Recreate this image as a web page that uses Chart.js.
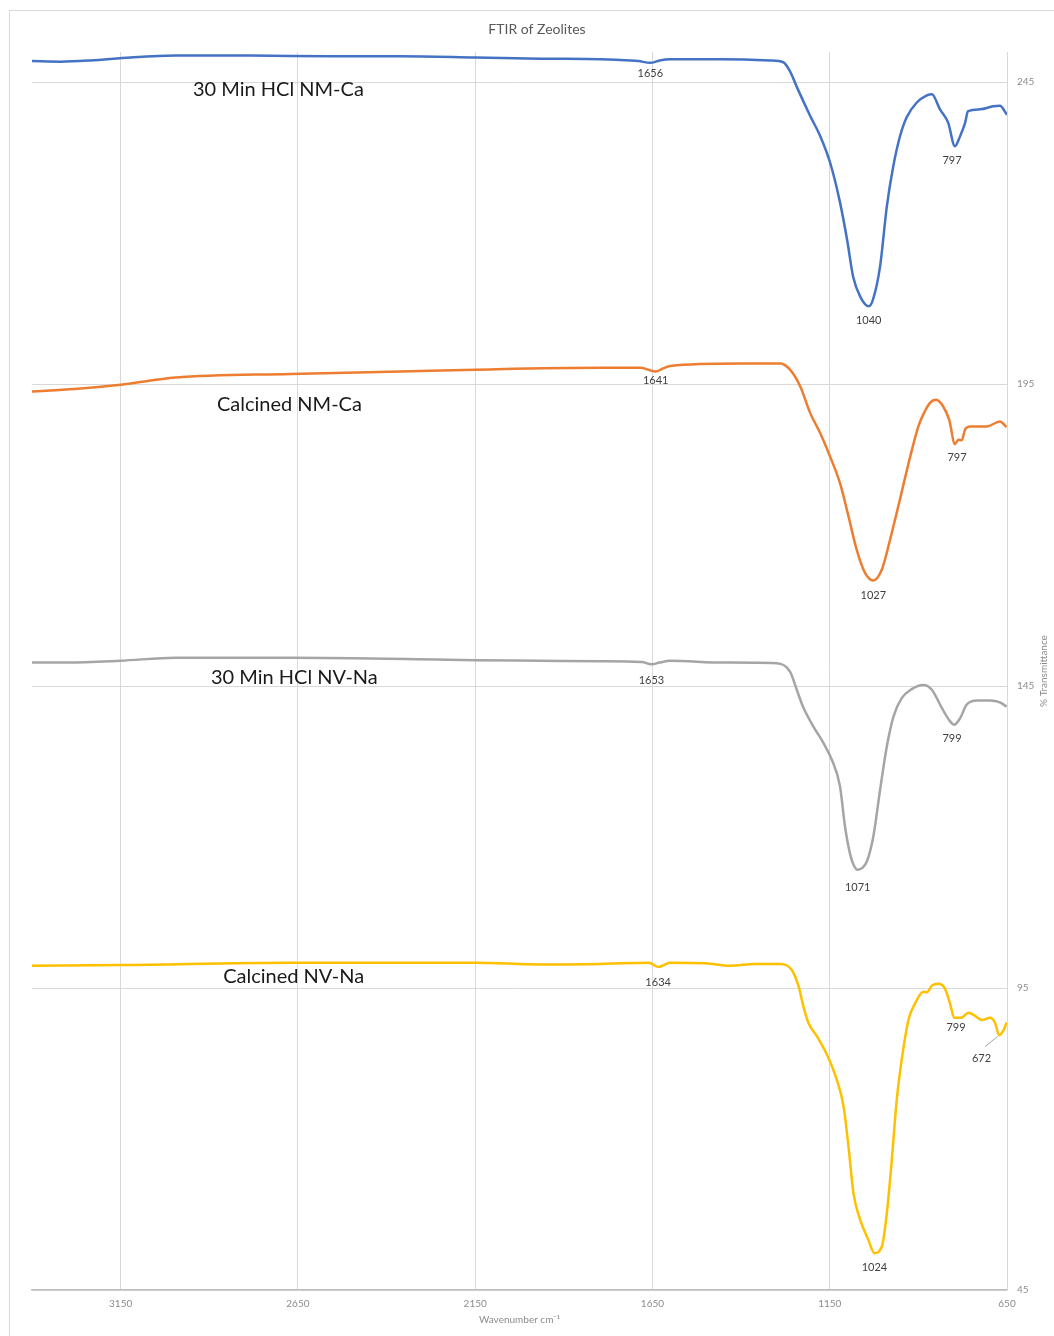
<!DOCTYPE html>
<html>
<head>
<meta charset="utf-8">
<title>FTIR of Zeolites</title>
<script src="https://cdn.jsdelivr.net/npm/chart.js@4.4.1/dist/chart.umd.min.js"></script>
<style>
  html, body { margin: 0; padding: 0; background: #ffffff; }
  #wrap { position: relative; width: 1054px; height: 1336px; }
  canvas { display: block; }
</style>
</head>
<body>
<div id="wrap"><canvas id="ftir" width="1054" height="1336"></canvas></div>
<script>
// ---- Spectra (wavenumber in cm-1, %T with vertical offsets per sample) ----
const hclNmCaWave = [650, 670, 689, 726, 760, 768, 782, 797, 816, 839, 862, 876, 905, 933, 952, 971, 989, 1008, 1028, 1040, 1064, 1084, 1101, 1121, 1149, 1177, 1205, 1242, 1262, 1281, 1318, 1459, 1600, 1630, 1656, 1690, 1713, 1797, 1966, 2149, 2361, 2558, 2784, 2995, 3122, 3235, 3319, 3400];
const hclNmCaT    = [239.6, 241.1, 241.0, 240.5, 240.2, 238.3, 236.1, 234.4, 238.3, 240.5, 243.0, 242.8, 241.6, 239.2, 236.0, 231.0, 224.4, 214.5, 209.0, 207.9, 209.5, 212.8, 218.9, 225.1, 231.7, 236.1, 239.4, 244.1, 246.8, 248.3, 248.6, 248.8, 248.8, 248.6, 248.2, 248.5, 248.6, 248.8, 248.9, 249.1, 249.3, 249.3, 249.4, 249.4, 249.1, 248.6, 248.4, 248.5];

const calNmCaWave = [651, 670, 707, 754, 768, 778, 787, 797, 813, 830, 850, 867, 886, 900, 923, 952, 980, 1003, 1027, 1050, 1074, 1097, 1121, 1149, 1177, 1205, 1233, 1262, 1290, 1403, 1600, 1620, 1641, 1684, 1797, 2149, 2361, 2671, 2995, 3150, 3280, 3400];
const calNmCaT    = [187.9, 188.8, 188.0, 188.0, 187.5, 185.7, 185.8, 185.1, 189.1, 191.3, 192.4, 191.9, 190.0, 188.0, 183.0, 175.9, 169.2, 164.3, 162.5, 163.7, 167.6, 173.1, 178.6, 183.0, 186.9, 190.2, 194.6, 197.4, 198.4, 198.4, 198.0, 197.6, 197.1, 197.7, 197.7, 197.4, 197.1, 196.7, 196.1, 194.9, 194.2, 193.8];

const hclNvNaWave = [651, 670, 698, 735, 764, 782, 799, 811, 834, 862, 886, 919, 947, 970, 989, 1008, 1027, 1045, 1058, 1071, 1082, 1093, 1107, 1121, 1144, 1168, 1196, 1224, 1243, 1262, 1300, 1450, 1600, 1630, 1653, 1680, 1797, 1966, 2149, 2671, 2995, 3150, 3300, 3400];
const hclNvNaT    = [141.6, 142.3, 142.6, 142.6, 141.9, 139.7, 138.6, 139.2, 141.4, 144.4, 145.2, 144.5, 143.0, 140.0, 135.0, 127.8, 120.1, 116.0, 114.9, 114.6, 115.3, 117.3, 121.8, 128.4, 132.8, 135.6, 138.3, 141.4, 144.4, 147.4, 148.8, 148.9, 149.2, 148.9, 148.6, 149.0, 149.1, 149.2, 149.3, 149.7, 149.7, 149.2, 148.9, 148.9];

const calNvNaWave = [651, 660, 672, 684, 698, 721, 740, 759, 778, 799, 811, 825, 844, 862, 876, 886, 909, 928, 947, 961, 975, 989, 1003, 1024, 1041, 1064, 1083, 1097, 1111, 1130, 1158, 1186, 1210, 1224, 1238, 1257, 1290, 1360, 1431, 1500, 1600, 1634, 1660, 1797, 1966, 2149, 2417, 2671, 3150, 3400];
const calNvNaT    = [89.3, 88.0, 87.2, 89.3, 90.1, 89.7, 90.4, 90.9, 90.1, 90.1, 92.5, 94.9, 95.7, 95.4, 94.3, 94.4, 92.5, 89.7, 83.1, 76.5, 66.5, 57.7, 52.2, 51.1, 53.3, 56.6, 61.0, 68.7, 75.4, 79.8, 84.0, 87.0, 89.2, 91.9, 95.3, 98.0, 99.0, 99.0, 98.7, 99.1, 99.2, 98.5, 99.2, 99.0, 98.9, 99.2, 99.2, 99.2, 98.8, 98.7];

const sampleNames  = ['30 Min HCl NM-Ca', 'Calcined NM-Ca', '30 Min HCl NV-Na', 'Calcined NV-Na'];
const sampleColors = ['#4472C4', '#ED7D31', '#A5A5A5', '#FFC000'];

// axis ticks
const xTicks = [3150, 2650, 2150, 1650, 1150, 650];
const yTicks = [45, 95, 145, 195, 245];

// sample name anchors (wavenumber, %T)
const nameWave = [2705, 2674, 2660, 2662];
const nameT    = [243.8, 191.6, 146.4, 96.9];

// band labels: text is the band position, anchored at (wave, %T)
const bandText = ['1656', '1040', '797', '1641', '1027', '797', '1653', '1071', '799', '1634', '1024', '799', '672'];
const bandWave = [1656, 1040, 805, 1641, 1027, 791, 1653, 1071, 805, 1634, 1024, 794, 722];
const bandT    = [246.4, 205.5, 232.0, 195.6, 160.0, 182.8, 145.9, 111.6, 136.3, 95.9, 48.7, 88.4, 83.3];

// leader line for the 672 band
const leaderWave = [712, 676];
const leaderT    = [85.3, 87.0];

function pts(w, t) { return w.map((v, i) => ({ x: v, y: t[i] })); }

const seriesData = [
  pts(hclNmCaWave, hclNmCaT),
  pts(calNmCaWave, calNmCaT),
  pts(hclNvNaWave, hclNvNaT),
  pts(calNvNaWave, calNvNaT)
];

const FONT = "Lato, 'Open Sans', 'DejaVu Sans', sans-serif";

const annotate = {
  id: 'ftirText',
  beforeDraw(chart) {
    const ctx = chart.ctx;
    ctx.save();
    ctx.fillStyle = '#ffffff';
    ctx.fillRect(0, 0, chart.width, chart.height);
    ctx.strokeStyle = '#d9d9d9';
    ctx.lineWidth = 1;
    ctx.strokeRect(9.5, 10.5, 1200, 1500);
    // chart title
    ctx.fillStyle = '#595959';
    ctx.font = '14px ' + FONT;
    ctx.textAlign = 'center';
    ctx.textBaseline = 'middle';
    ctx.fillText('FTIR of Zeolites', 537, 29);
    // vertical axis title
    const area = chart.chartArea;
    ctx.translate(1044, (area.top + area.bottom) / 2);
    ctx.rotate(-Math.PI / 2);
    ctx.fillStyle = '#8c8c8c';
    ctx.font = '10px ' + FONT;
    ctx.fillText('% Transmittance', 0, 0);
    ctx.restore();
  },
  afterDatasetsDraw(chart) {
    const { ctx, scales: { x, y } } = chart;
    ctx.save();
    ctx.textAlign = 'center';
    ctx.textBaseline = 'middle';
    // sample names
    ctx.fillStyle = '#1a1a1a';
    ctx.font = '20px ' + FONT;
    sampleNames.forEach((n, i) => {
      ctx.fillText(n, x.getPixelForValue(nameWave[i]), y.getPixelForValue(nameT[i]));
    });
    // band positions
    ctx.fillStyle = '#404040';
    ctx.font = '11px ' + FONT;
    bandText.forEach((t, i) => {
      ctx.fillText(t, x.getPixelForValue(bandWave[i]), y.getPixelForValue(bandT[i]));
    });
    // leader line
    ctx.strokeStyle = '#a6a6a6';
    ctx.lineWidth = 1;
    ctx.beginPath();
    ctx.moveTo(x.getPixelForValue(leaderWave[0]), y.getPixelForValue(leaderT[0]));
    ctx.lineTo(x.getPixelForValue(leaderWave[1]), y.getPixelForValue(leaderT[1]));
    ctx.stroke();
    ctx.restore();
  }
};

new Chart(document.getElementById('ftir'), {
  type: 'line',
  data: {
    datasets: seriesData.map((d, i) => ({
      label: sampleNames[i],
      data: d,
      borderColor: sampleColors[i],
      backgroundColor: sampleColors[i],
      borderWidth: 2.5,
      pointRadius: 0,
      fill: false,
      cubicInterpolationMode: 'monotone'
    }))
  },
  options: {
    responsive: false,
    animation: false,
    parsing: true,
    layout: { padding: { left: 32, top: 52, right: 0, bottom: 0 } },
    plugins: {
      legend: { display: false },
      tooltip: { enabled: false },
      title: { display: false }
    },
    scales: {
      x: {
        type: 'linear',
        reverse: true,
        min: 650,
        max: 3400,
        afterBuildTicks: s => { s.ticks = xTicks.map(v => ({ value: v })); },
        afterFit: s => { s.height = 46; },
        grid: { color: '#d9d9d9', lineWidth: 1, drawTicks: false },
        border: { color: '#bfbfbf', width: 1.5 },
        ticks: {
          padding: 8,
          color: '#8c8c8c',
          font: { family: FONT, size: 10 },
          maxRotation: 0,
          autoSkip: false,
          callback: v => String(v)
        },
        title: {
          display: true,
          text: 'Wavenumber cm⁻¹',
          color: '#8c8c8c',
          font: { family: FONT, size: 10 },
          padding: { top: 0, bottom: 10 }
        }
      },
      y: {
        type: 'linear',
        position: 'right',
        min: 45,
        max: 250,
        afterBuildTicks: s => { s.ticks = yTicks.map(v => ({ value: v })); },
        afterFit: s => { s.width = 47; },
        grid: { color: '#d9d9d9', lineWidth: 1, drawTicks: false },
        border: { color: '#d9d9d9', width: 1 },
        ticks: {
          padding: 10,
          color: '#8c8c8c',
          font: { family: FONT, size: 10 },
          callback: v => String(v)
        }
      }
    }
  },
  plugins: [annotate]
});
</script>
</body>
</html>
